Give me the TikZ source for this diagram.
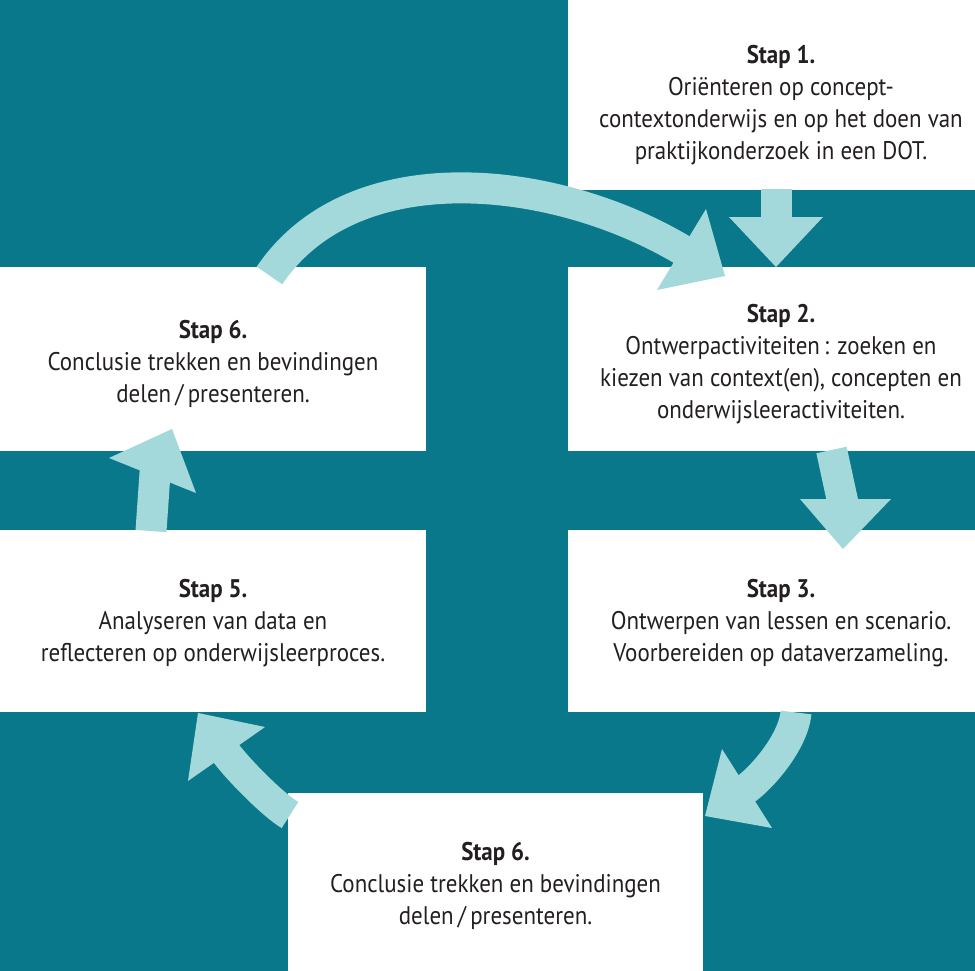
\documentclass[tikz,border=0pt]{standalone}
\usepackage{fontspec}
\setmainfont{PT Sans}[FakeStretch=0.9]
\usetikzlibrary{calc}
\definecolor{bgteal}{RGB}{9,120,138}
\definecolor{flowc}{RGB}{164,217,219}
\definecolor{txtc}{RGB}{35,31,32}
\begin{document}
\begin{tikzpicture}[x=1pt,y=1pt,
  box/.style={fill=white, draw=none, inner sep=0pt, anchor=north west},
  steptext/.style={text=txtc, align=center, inner sep=0pt, font=\fontsize{25.5}{32}\selectfont},
  shaft/.style={draw=flowc, line width=31pt, line cap=butt},
  head/.style={fill=flowc, draw=none}]
\useasboundingbox (0,0) rectangle (975,-971);
\fill[bgteal] (0,0) rectangle (975,-971);

% boxes
\node[box, minimum width=407pt, minimum height=190pt] (b1) at (568,0) {};
\node[box, minimum width=407pt, minimum height=184pt] (b2) at (568,-267) {};
\node[box, minimum width=407pt, minimum height=182pt] (b3) at (568,-530) {};
\node[box, minimum width=415pt, minimum height=178pt] (b4) at (288,-793) {};
\node[box, minimum width=426pt, minimum height=182pt] (b5) at (0,-530) {};
\node[box, minimum width=426pt, minimum height=184pt] (b6) at (0,-267) {};

% texts
\node[steptext] (t1) at (781,-105) {{\bfseries Stap 1.}\\Oriënteren op concept-\\contextonderwijs en op het doen van\\praktijkonderzoek in een DOT.};
\node[steptext] (t2) at (781,-364) {{\bfseries Stap 2.}\\Ontwerpactiviteiten\,: zoeken en\\kiezen van context(en), concepten en\\onderwijsleeractiviteiten.};
\node[steptext] (t3) at (781,-623) {{\bfseries Stap 3.}\\Ontwerpen van lessen en scenario.\\Voorbereiden op dataverzameling.};
\node[steptext] (t4) at (495.5,-886) {{\bfseries Stap 6.}\\Conclusie trekken en bevindingen\\delen\,/\,presenteren.};
\node[steptext] (t5) at (213,-623) {{\bfseries Stap 5.}\\Analyseren van data en\\reflecteren op onderwijsleerproces.};
\node[steptext] (t6) at (213,-364) {{\bfseries Stap 6.}\\Conclusie trekken en bevindingen\\delen\,/\,presenteren.};

% arrow coordinates
\coordinate (a1s) at (269.5,-275.5);
\coordinate (a1e) at (685.8,-252.1);
\coordinate (a1l) at (706,-209);
\coordinate (a1t) at (725,-276);
\coordinate (a1r) at (657,-290);

\coordinate (a2s) at (776,-189);
\coordinate (a2e) at (776,-222);
\coordinate (a2l) at (729,-217);
\coordinate (a2t) at (776,-267);
\coordinate (a2r) at (823,-217);

\coordinate (a3s) at (831.5,-450);
\coordinate (a3e) at (843,-503);
\coordinate (a3l) at (800,-499);
\coordinate (a3t) at (843,-549);
\coordinate (a3r) at (891,-499);

\coordinate (a4s) at (796,-712.5);
\coordinate (a4e) at (743.6,-790.7);
\coordinate (a4l) at (722,-749);
\coordinate (a4t) at (705,-816);
\coordinate (a4r) at (772,-828);

\coordinate (a5s) at (290,-815);
\coordinate (a5e) at (224.2,-750.7);
\coordinate (a5l) at (265,-727);
\coordinate (a5t) at (198,-713);
\coordinate (a5r) at (188,-781);

\coordinate (a6s) at (151,-531);
\coordinate (a6e) at (155.5,-466);
\coordinate (a6l) at (109,-458);
\coordinate (a6t) at (172,-429);
\coordinate (a6r) at (196,-493);

% arrows
\draw[shaft] (a1s) .. controls (353.5,-151) and (557.8,-174.1) .. (a1e);
\fill[head] (a1l) -- (a1t) -- (a1r) -- cycle;

\draw[shaft] (a2s) -- (a2e);
\fill[head] (a2l) -- (a2t) -- (a2r) -- cycle;

\draw[shaft] (a3s) -- (a3e);
\fill[head] (a3l) -- (a3t) -- (a3r) -- cycle;

\draw[shaft] (a4s) .. controls (793.3,-742.5) and (760.4,-779.7) .. (a4e);
\fill[head] (a4l) -- (a4t) -- (a4r) -- cycle;

\draw[shaft] (a5s) .. controls (272.8,-805) and (235.6,-767.1) .. (a5e);
\fill[head] (a5l) -- (a5t) -- (a5r) -- cycle;

\draw[shaft] (a6s) -- (a6e);
\fill[head] (a6l) -- (a6t) -- (a6r) -- cycle;
\end{tikzpicture}
\end{document}
